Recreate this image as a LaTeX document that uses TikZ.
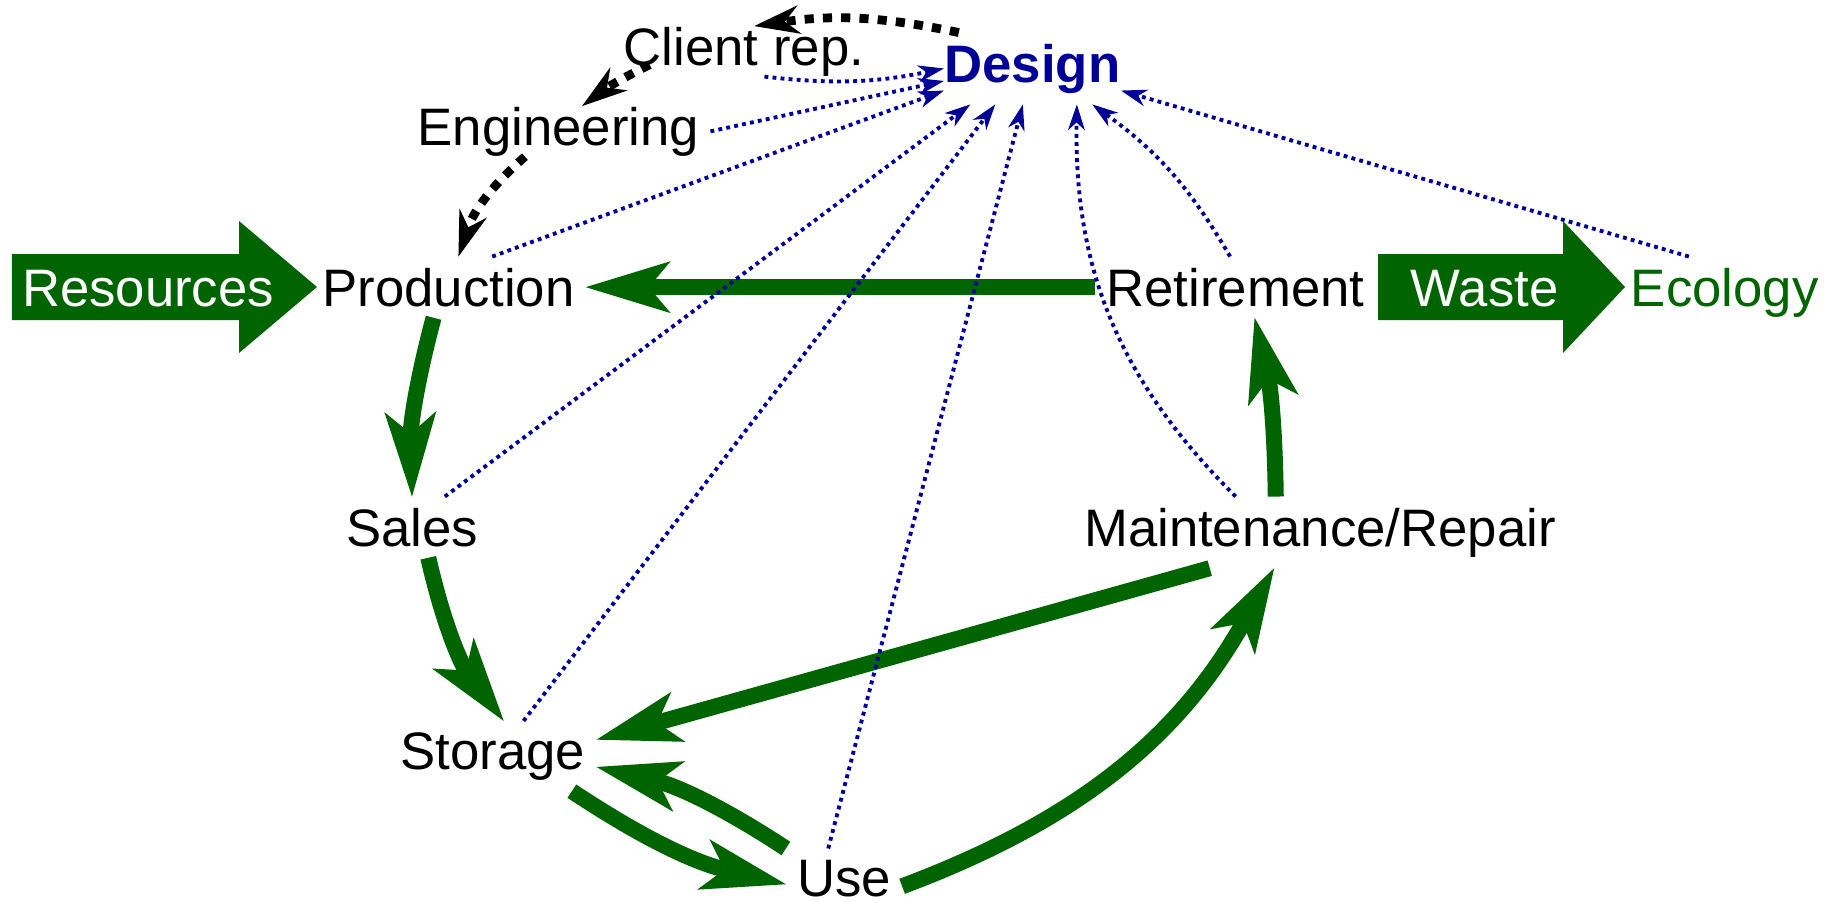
\documentclass[tikz,border=0pt]{standalone}
\usepackage{fontspec}
\setmainfont{Liberation Sans}
\usepackage{xcolor}
\usepackage{tikz}
\usetikzlibrary{arrows.meta, positioning}
\definecolor{lifegreen}{RGB}{0,100,0}
\definecolor{designblue}{RGB}{0,0,153}

\begin{document}
\begin{tikzpicture}
\tikzstyle{stage} = [inner sep=3pt, anchor=base, font=\fontsize{15}{18}\selectfont]
\tikzstyle{flow} = [draw=lifegreen, line width=1.6mm, -{Stealth[length=8.5mm, width=5.2mm, inset=2.2mm, line width=0pt]}]
\tikzstyle{feedback} = [draw=designblue, line width=1.1pt, dash pattern=on 1.1pt off 1.2pt, -{Stealth[length=2.6mm, width=1.7mm, inset=0.8mm, line width=0pt]}]
\tikzstyle{handoff} = [draw=black, line width=2.5pt, dash pattern=on 2.6pt off 2.6pt, -{Stealth[length=4.6mm, width=2.9mm, inset=1.5mm, line width=0pt]}]
\tikzstyle{bigarrow} = [fill=lifegreen]

\useasboundingbox (0,0) rectangle (18.29,9.02);

\fill [bigarrow] (0.12,6.48) -- (2.39,6.48) -- (2.39,6.81) -- (3.17,6.15) -- (2.39,5.49) -- (2.39,5.82) -- (0.12,5.82) -- cycle;
\fill [bigarrow] (13.78,6.48) -- (15.63,6.48) -- (15.63,6.81) -- (16.25,6.15) -- (15.63,5.49) -- (15.63,5.82) -- (13.78,5.82) -- cycle;

\node (design) [stage, inner xsep=0pt, font=\fontsize{15}{18}\selectfont\bfseries, text=designblue] at (10.325,8.20) {Design};
\node (client) [stage, inner ysep=0pt] at (7.44,8.37) {Client rep.};
\node (eng) [stage, inner ysep=0pt] at (5.585,7.57) {Engineering};
\node (prod) [stage] at (4.485,5.96) {Production};
\node (res) [stage, text=white, base left=0.26cm of prod] {Resources};
\node (ret) [stage] at (12.355,5.96) {Retirement};
\node (waste) [stage, text=white, base right=0.24cm of ret] {Waste};
\node (eco) [stage, text=lifegreen, base right=0.5cm of waste] {Ecology};
\node (sales) [stage] at (4.12,3.56) {Sales};
\node (maint) [stage] at (13.20,3.56) {Maintenance/Repair};
\node (storage) [stage] at (4.93,1.33) {Storage};
\node (use) [stage] at (8.44,0.06) {Use};

\draw [flow] (ret.west) -- (prod.east);
\draw [flow] (prod.244) to[bend right=8] (sales.north);
\draw [flow] (sales.-62) to[bend right=12] (storage.73);
\draw [flow] (maint.198) -- (storage.9);
\draw [flow] (storage.-24) to[bend right=10] (use.186);
\draw [flow] (use.north west) to[bend right=10] (storage.-6);
\draw [flow] (use.-8) to[bend right=20] (maint.218);
\draw [flow] (maint.141) to[bend right=6] (ret.-58);

\draw [feedback] (client.-51) to[bend right=9] (design.west);
\draw [feedback] (eng.east) -- (design.188);
\draw [feedback] (prod.35) -- (design.194);
\draw [feedback] (sales.43) -- (design.210);
\draw [feedback] (storage.49) -- (design.224);
\draw [feedback] (use.118) -- (design.255);
\draw [feedback] (maint.157) to[bend left=23] (design.321);
\draw [feedback] (ret.100) to[bend right=12] (design.329);
\draw [feedback] (eco.135) -- (design.346);

\draw [handoff] (design.154) to[bend right=10] (client.68);
\draw [handoff] ([yshift=1.2mm]client.195) to[bend right=5] (eng.47);
\draw [handoff] (eng.217) to[bend right=15] (prod.72);

\end{tikzpicture}
\end{document}
